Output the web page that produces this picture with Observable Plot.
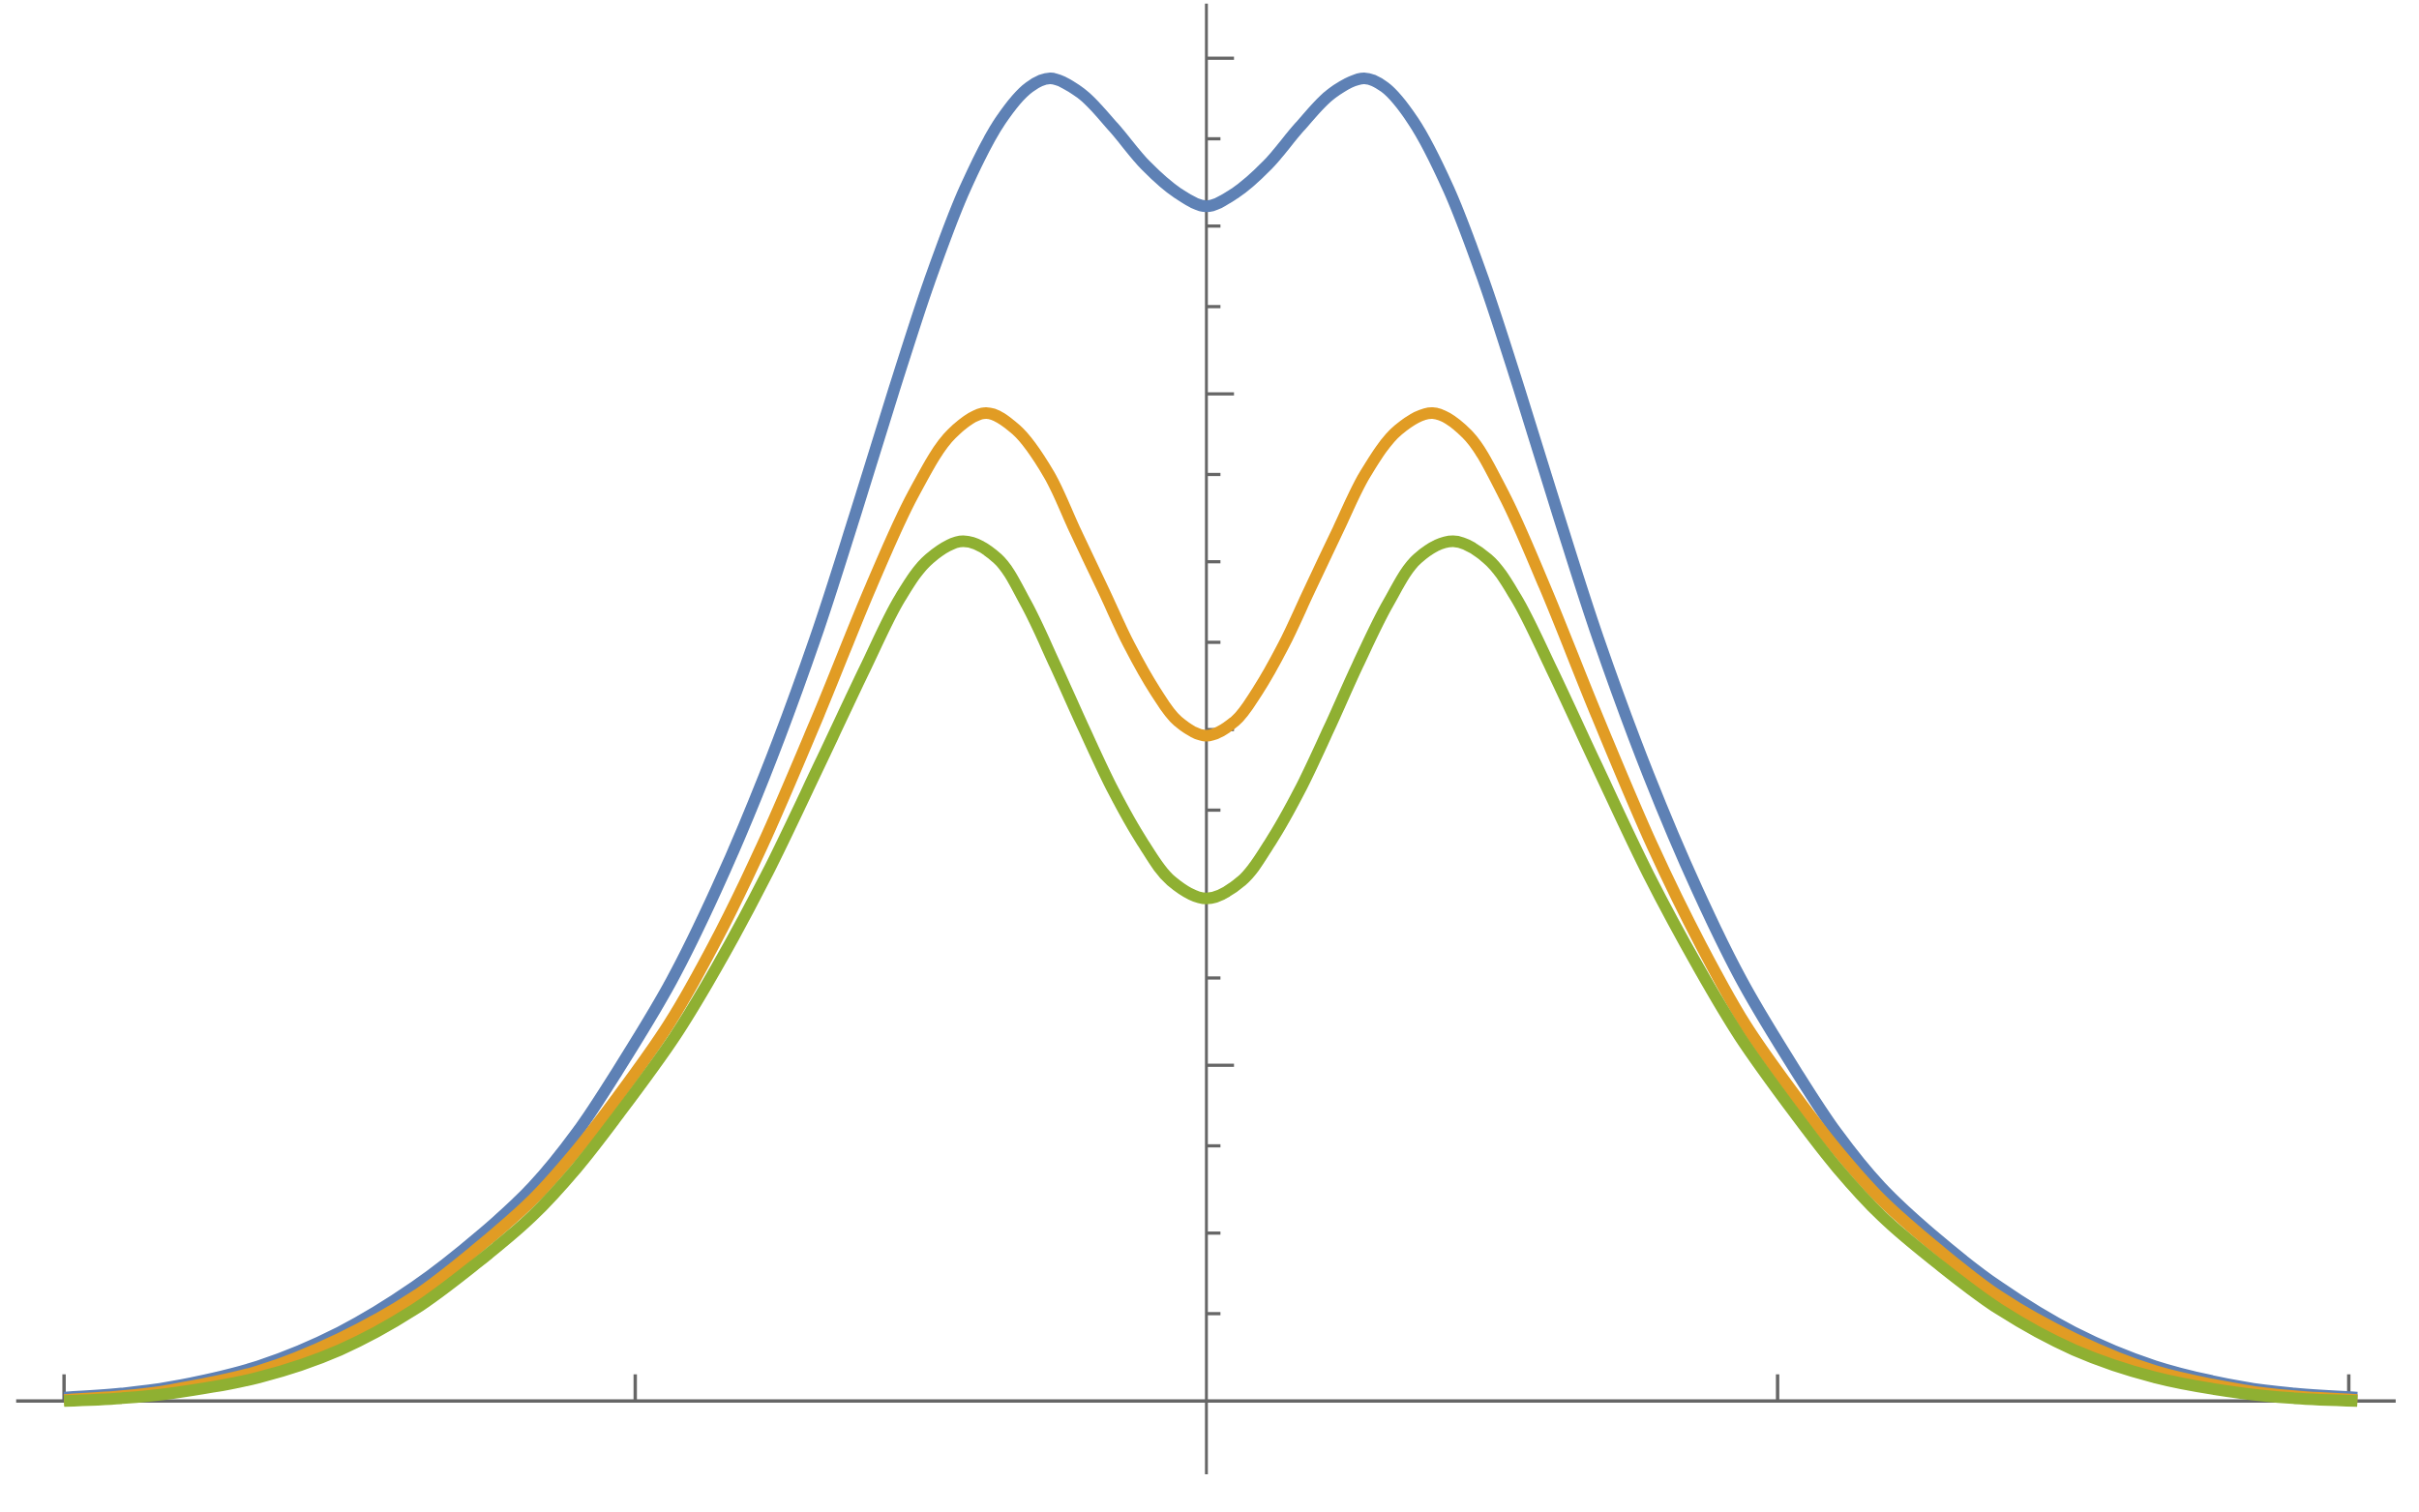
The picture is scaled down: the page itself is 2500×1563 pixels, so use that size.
<!DOCTYPE html>
<html>
<head>
<meta charset="utf-8">
<script src="https://cdn.jsdelivr.net/npm/d3@7"></script>
<script src="https://cdn.jsdelivr.net/npm/@observablehq/plot@0.6"></script>
<style>
  html, body { margin: 0; padding: 0; background: #ffffff; }
  #chart svg { display: block; }
</style>
</head>
<body>
<div id="chart"></div>
<script>
// ---- Data ----
const series1X = [-2.000, -1.900, -1.815, -1.659, -1.517, -1.387, -1.271, -1.180, -1.102, -1.031, -0.937, -0.858, -0.773, -0.685, -0.615, -0.547, -0.485, -0.423, -0.361, -0.310, -0.273, -0.220, -0.163, -0.107, -0.050, 0.000,
                  0.050, 0.107, 0.163, 0.220, 0.276, 0.312, 0.362, 0.424, 0.486, 0.548, 0.616, 0.686, 0.774, 0.859, 0.938, 1.032, 1.103, 1.181, 1.272, 1.388, 1.518, 1.660, 1.816, 1.905, 2.015];
const series1Y = [0.010, 0.022, 0.041, 0.104, 0.205, 0.339, 0.493, 0.637, 0.800, 0.983, 1.250, 1.524, 1.865, 2.271, 2.640, 3.012, 3.335, 3.610, 3.813, 3.914, 3.940, 3.896, 3.795, 3.682, 3.598, 3.559,
                  3.598, 3.682, 3.795, 3.896, 3.940, 3.914, 3.813, 3.610, 3.335, 3.012, 2.640, 2.271, 1.865, 1.524, 1.250, 0.983, 0.800, 0.637, 0.493, 0.339, 0.205, 0.104, 0.041, 0.022, 0.010];

const series2X = [-2.000, -1.900, -1.815, -1.659, -1.517, -1.387, -1.277, -1.180, -1.102, -1.031, -0.942, -0.863, -0.778, -0.680, -0.587, -0.513, -0.446, -0.386, -0.333, -0.276, -0.231, -0.180, -0.135, -0.090, -0.050, 0.000,
                  0.050, 0.090, 0.135, 0.180, 0.231, 0.278, 0.336, 0.396, 0.456, 0.520, 0.592, 0.684, 0.781, 0.866, 0.944, 1.033, 1.104, 1.182, 1.279, 1.389, 1.519, 1.661, 1.817, 1.905, 2.015];
const series2Y = [0.003, 0.014, 0.032, 0.089, 0.186, 0.310, 0.454, 0.599, 0.748, 0.905, 1.120, 1.357, 1.653, 2.040, 2.427, 2.702, 2.881, 2.943, 2.893, 2.761, 2.597, 2.414, 2.251, 2.116, 2.025, 1.982,
                  2.025, 2.116, 2.251, 2.414, 2.597, 2.761, 2.893, 2.943, 2.881, 2.702, 2.427, 2.040, 1.653, 1.357, 1.120, 0.905, 0.748, 0.599, 0.454, 0.310, 0.186, 0.089, 0.032, 0.014, 0.003];

const series3X = [-2.000, -1.900, -1.815, -1.659, -1.517, -1.387, -1.277, -1.180, -1.102, -1.031, -0.931, -0.858, -0.770, -0.677, -0.598, -0.536, -0.485, -0.426, -0.366, -0.316, -0.265, -0.214, -0.163, -0.112, -0.062, 0.000,
                  0.062, 0.112, 0.163, 0.214, 0.265, 0.318, 0.370, 0.432, 0.492, 0.542, 0.604, 0.682, 0.774, 0.862, 0.934, 1.033, 1.104, 1.182, 1.279, 1.389, 1.519, 1.661, 1.817, 1.905, 2.015];
const series3Y = [0.000, 0.008, 0.022, 0.070, 0.152, 0.272, 0.411, 0.551, 0.695, 0.850, 1.085, 1.290, 1.568, 1.897, 2.181, 2.393, 2.509, 2.561, 2.510, 2.376, 2.193, 2.001, 1.818, 1.665, 1.550, 1.497,
                  1.550, 1.665, 1.818, 2.001, 2.193, 2.376, 2.510, 2.561, 2.509, 2.393, 2.181, 1.897, 1.568, 1.290, 1.085, 0.850, 0.695, 0.551, 0.411, 0.272, 0.152, 0.070, 0.022, 0.008, 0.000];

// Axis ticks (no labels in the reference)
const xTicks = [-2, -1, 1, 2];
const yMajorTicks = [1, 2, 3, 4];
const yMinorTicks = [0.26, 0.50, 0.76, 1.26, 1.50, 1.76, 2.26, 2.50, 2.76, 3.26, 3.50, 3.76];

// Plot range and axis-line extents
const xDomain = [-2.1113, 2.1238];
const yDomain = [-0.3323, 4.1720];
const xAxisExtent = [-2.083, 2.083];
const yAxisExtent = [-0.22, 4.161];

const seriesNames = ["s1", "s2", "s3"];
const seriesColors = ["#5E81B5", "#E19C24", "#8FB032"];

// ---- Build table ----
const rows = [];
[[series1X, series1Y], [series2X, series2Y], [series3X, series3Y]].forEach(([xs, ys], k) => {
  xs.forEach((x, i) => rows.push({series: seriesNames[k], x, y: ys[i]}));
});

const axisColor = "#666666";

const chart = Plot.plot({
  width: 2500,
  height: 1563,
  marginTop: 0, marginRight: 0, marginBottom: 0, marginLeft: 0,
  x: {domain: xDomain, axis: null},
  y: {domain: yDomain, axis: null},
  color: {type: "ordinal", domain: seriesNames, range: seriesColors},
  style: {background: "#ffffff"},
  marks: [
    // axis lines crossing at the origin
    Plot.ruleY([0], {y: d => d, x1: xAxisExtent[0], x2: xAxisExtent[1], stroke: axisColor, strokeWidth: 3.5}),
    Plot.ruleX([0], {x: d => d, y1: yAxisExtent[0], y2: yAxisExtent[1], stroke: axisColor, strokeWidth: 3}),
    // x ticks (upward from the axis)
    Plot.ruleX(xTicks, {x: d => d, y1: 0, y2: 0, insetTop: -27, stroke: axisColor, strokeWidth: 3.5}),
    // y ticks (to the right of the axis)
    Plot.ruleY(yMajorTicks, {y: d => d, x1: 0, x2: 0, insetRight: -29, stroke: axisColor, strokeWidth: 3.3}),
    Plot.ruleY(yMinorTicks, {y: d => d, x1: 0, x2: 0, insetRight: -15, stroke: axisColor, strokeWidth: 3.3}),
    // curves
    Plot.line(rows, {
      x: "x", y: "y", z: "series", stroke: "series",
      strokeWidth: 12, curve: "catmull-rom",
      strokeLinecap: "butt", strokeLinejoin: "round"
    })
  ]
});

document.getElementById("chart").appendChild(chart);
</script>
</body>
</html>
